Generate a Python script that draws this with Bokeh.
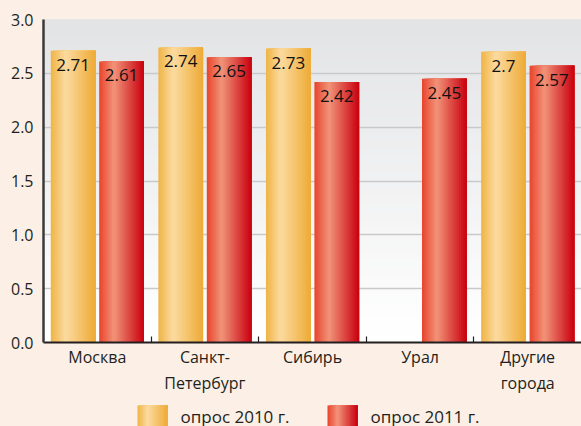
import numpy as np
from bokeh.plotting import figure
from bokeh.layouts import column
from bokeh.models import Range1d, LinearAxis, FixedTicker, CustomJSTickFormatter
from bokeh.core.properties import value
from bokeh.embed import file_html
from bokeh.resources import INLINE

# ---- data ----
categories = ["Москва", "Санкт-Петербург", "Сибирь", "Урал", "Другие города"]
cat_labels = ["Москва", "Санкт-\nПетербург", "Сибирь", "Урал", "Другие\nгорода"]
series_names = ["опрос 2010 г.", "опрос 2011 г."]
values_2010 = [2.71, 2.74, 2.73, None, 2.70]
values_2011 = [2.61, 2.65, 2.42, 2.45, 2.57]
y_ticks = [0.0, 0.5, 1.0, 1.5, 2.0, 2.5, 3.0]

FONT = "Open Sans"
BG = "#fcefe6"
TXT = "#231f20"

# gradient stops (position, colour) for each series
grad_2010 = [(0.0, "#f0b444"), (0.33, "#fbdba0"), (1.0, "#eeaa36")]
grad_2011 = [(0.0, "#e8432c"), (0.33, "#f19479"), (1.0, "#c9000f")]


def hex2rgb(h):
    h = h.lstrip("#")
    return np.array([int(h[i:i + 2], 16) for i in (0, 2, 4)], dtype=float)


def interp_color(stops, t):
    for (p0, c0), (p1, c1) in zip(stops[:-1], stops[1:]):
        if p0 <= t <= p1:
            f = (t - p0) / (p1 - p0)
            c = hex2rgb(c0) * (1 - f) + hex2rgb(c1) * f
            return "#%02x%02x%02x" % tuple(int(round(v)) for v in c)
    return stops[-1][1]


W = 581
MAIN_H = 398
LEG_H = 28
LEFT = 43

p = figure(width=W, height=MAIN_H, output_backend="svg", toolbar_location=None,
           x_range=Range1d(0, len(categories)), y_range=Range1d(0, 3.0),
           x_axis_location=None, y_axis_location=None,
           min_border_left=LEFT, min_border_right=0, min_border_top=19,
           min_border_bottom=MAIN_H - 342)
p.background_fill_color = "white"
p.border_fill_color = BG
p.outline_line_color = None

# plot background vertical gradient (white at bottom -> light grey at top)
nb = 40
edges = np.linspace(0, 3.0, nb + 1)[:-1]
bg_cols = [interp_color([(0.0, "#ffffff"), (1.0, "#e2e3e5")], e / 3.0) for e in edges]
p.quad(left=0, right=len(categories), bottom=edges, top=3.0,
       fill_color=bg_cols, line_color=None, level="image")

# bars as gradient slices (each slice runs to the bar's right edge; later ones overlay)
bar_w = 0.415
offsets = [-0.225, 0.225]
N = 24
lefts, rights, tops, cols = [], [], [], []
for vals, off, stops in [(values_2010, offsets[0], grad_2010), (values_2011, offsets[1], grad_2011)]:
    for i, v in enumerate(vals):
        if v is None:
            continue
        x0 = i + 0.5 + off - bar_w / 2
        for k in range(N):
            t = (k + 0.5) / N
            lefts.append(x0 + k * bar_w / N)
            rights.append(x0 + bar_w)
            tops.append(v)
            cols.append(interp_color(stops, t))
p.quad(left=lefts, right=rights, top=tops, bottom=0, fill_color=cols, line_color=None)

# value labels
lx, ly, lt = [], [], []
for vals, off in [(values_2010, offsets[0]), (values_2011, offsets[1])]:
    for i, v in enumerate(vals):
        if v is None:
            continue
        lx.append(i + 0.5 + off)
        ly.append(v)
        lt.append(f"{v:g}")
p.text(x=lx, y=ly, text=lt, text_align="center", text_baseline="alphabetic",
       y_offset=14, text_font=value(FONT), text_font_size="17px", text_color="#111111")

# grid
p.xgrid.visible = False
p.ygrid.ticker = FixedTicker(ticks=y_ticks)
p.ygrid.grid_line_color = "#c9c9c9"
p.ygrid.grid_line_width = 1.5

# y axis
yax = LinearAxis(ticker=FixedTicker(ticks=y_ticks))
yax.formatter = CustomJSTickFormatter(code="return tick.toFixed(1);")
yax.axis_line_color = "#3a3a3a"
yax.axis_line_width = 2.5
yax.major_tick_line_color = None
yax.major_tick_out = 0
yax.major_tick_in = 0
yax.minor_tick_line_color = None
yax.major_label_text_font = FONT
yax.major_label_text_font_size = "16px"
yax.major_label_text_color = TXT
yax.major_label_standoff = 10
p.add_layout(yax, "left")

# x axis: labels at category centres, small ticks at category boundaries
centers = [i + 0.5 for i in range(len(categories))]
bounds = [float(i) for i in range(1, len(categories))]
xax = LinearAxis(ticker=FixedTicker(ticks=centers, minor_ticks=bounds))
xax.major_label_overrides = {c: lab for c, lab in zip(centers, cat_labels)}
xax.axis_line_color = TXT
xax.axis_line_width = 2
xax.major_tick_line_color = None
xax.major_tick_out = 0
xax.major_tick_in = 0
xax.minor_tick_line_color = TXT
xax.minor_tick_line_width = 1.2
xax.minor_tick_in = 6
xax.minor_tick_out = 0
xax.major_label_text_font = FONT
xax.major_label_text_font_size = "16px"
xax.major_label_text_color = TXT
xax.major_label_standoff = 3
p.add_layout(xax, "below")

# ---- legend strip (separate figure; frame aligned with the main one, x in canvas px) ----
leg = figure(width=W, height=LEG_H, output_backend="svg", toolbar_location=None,
             x_range=Range1d(LEFT, W), y_range=Range1d(0, LEG_H),
             x_axis_location=None, y_axis_location=None,
             min_border=0, min_border_left=LEFT, min_border_right=0,
             min_border_top=0, min_border_bottom=0)
leg.background_fill_color = BG
leg.border_fill_color = BG
leg.outline_line_color = None
leg.grid.visible = False

legend_x = [137, 327]
sw_w, sw_top = 30, LEG_H - 7
sl, sr, sc = [], [], []
for x0, stops in zip(legend_x, [grad_2010, grad_2011]):
    for k in range(N):
        t = (k + 0.5) / N
        sl.append(x0 + k * sw_w / N)
        sr.append(x0 + sw_w)
        sc.append(interp_color(stops, t))
leg.quad(left=sl, right=sr, top=sw_top, bottom=-2, fill_color=sc, line_color=None)
leg.text(x=[x0 + sw_w + 13 for x0 in legend_x], y=[10.5, 10.5], text=series_names,
         text_baseline="middle", text_align="left", text_font=value(FONT),
         text_font_size="17px", text_color=TXT)

layout = column(p, leg, spacing=0, styles={"background-color": BG})
open("out.html", "w").write(file_html(layout, INLINE))
